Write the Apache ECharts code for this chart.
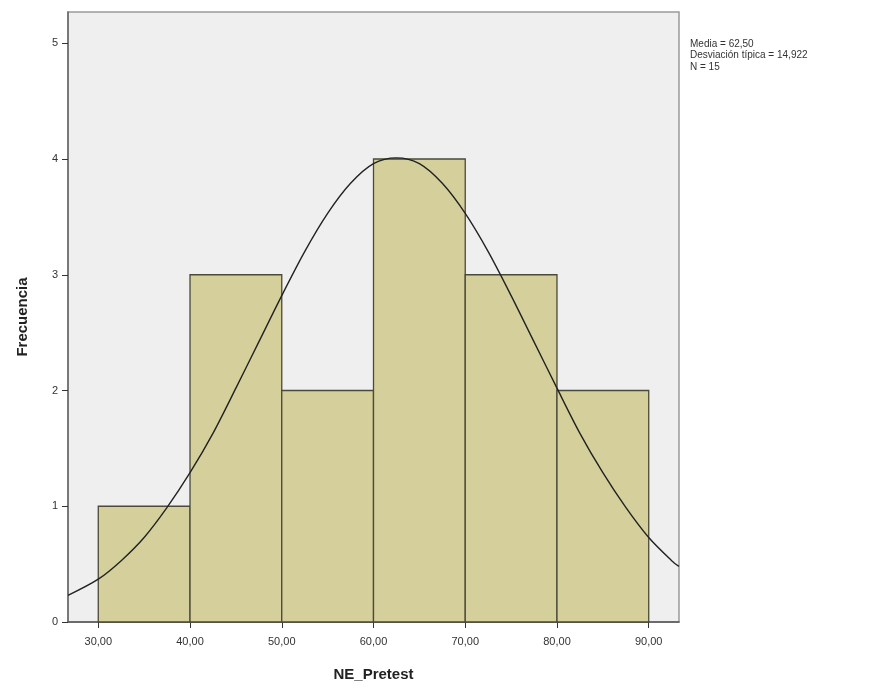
<!DOCTYPE html>
<html>
<head>
<meta charset="utf-8">
<script src="https://cdn.jsdelivr.net/npm/echarts@6.0.0/dist/echarts.min.js"></script>
<style>
  html, body { margin: 0; padding: 0; background: #fff; }
  #chart { width: 879px; height: 690px; }
</style>
</head>
<body>
<div id="chart"></div>
<script>
// histogram bins (NE_Pretest) and counts
var binStarts = [30, 40, 50, 60, 70, 80];
var binWidth = 10;
var counts = [1, 3, 2, 4, 3, 2];

// normal curve
var curveX = [26.7, 30, 32.5, 35, 37.5, 40, 42.5, 45, 47.5, 50, 52.5, 55, 57.5, 60, 62.5,
              65, 67.5, 70, 72.5, 75, 77.5, 80, 82.5, 85, 87.5, 90, 92.5, 93.3];
var curveY = [0.23, 0.37, 0.53, 0.73, 0.99, 1.29, 1.63, 2.02, 2.42, 2.82, 3.20, 3.53, 3.79, 3.96, 4.01,
              3.96, 3.79, 3.53, 3.20, 2.82, 2.42, 2.02, 1.63, 1.29, 0.99, 0.73, 0.53, 0.48];

var xTicks = [30, 40, 50, 60, 70, 80, 90];
var yTicks = [0, 1, 2, 3, 4, 5];
var statsText = ['Media = 62,50', 'Desviación típica = 14,922', 'N = 15'];

var bars = binStarts.map(function (s, i) { return [s, s + binWidth, counts[i]]; });
var curve = curveX.map(function (x, i) { return [x, curveY[i]]; });

var chart = echarts.init(document.getElementById('chart'));
var option = {
  animation: false,
  textStyle: { fontFamily: 'Liberation Sans, Arial, sans-serif' },
  grid: {
    left: 68, top: 12, right: 200, bottom: 68,
    show: true, backgroundColor: '#efefef', borderColor: '#9a9a9a', borderWidth: 1.5
  },
  xAxis: {
    type: 'value', min: 26.7, max: 93.3,
    name: 'NE_Pretest', nameLocation: 'middle', nameGap: 45,
    nameTextStyle: { fontSize: 15, fontWeight: 'bold', color: '#222' },
    axisLine: { show: true, onZero: false, lineStyle: { color: '#555', width: 1.5 } },
    axisTick: { show: true, customValues: xTicks, length: 6, lineStyle: { color: '#333' } },
    axisLabel: {
      customValues: xTicks, color: '#333', fontSize: 11, margin: 14,
      formatter: function (v) { return v.toFixed(2).replace('.', ','); }
    },
    splitLine: { show: false }
  },
  yAxis: {
    type: 'value', min: 0, max: 5.27,
    name: 'Frecuencia', nameLocation: 'middle', nameGap: 38,
    nameTextStyle: { fontSize: 15, fontWeight: 'bold', color: '#222' },
    axisLine: { show: true, lineStyle: { color: '#666', width: 1.5 } },
    axisTick: { show: true, customValues: yTicks, length: 6, lineStyle: { color: '#333' } },
    axisLabel: { customValues: yTicks, color: '#333', fontSize: 11, margin: 10 },
    splitLine: { show: false }
  },
  graphic: statsText.map(function (t, i) {
    return {
      type: 'text', left: 690, top: 39 + i * 11.5,
      style: { text: t, fontSize: 10, fill: '#333', fontFamily: 'Liberation Sans, Arial, sans-serif' }
    };
  }),
  series: [
    {
      type: 'custom',
      data: bars,
      encode: { x: [0, 1], y: 2 },
      renderItem: function (params, api) {
        var p0 = api.coord([api.value(0), api.value(2)]);
        var p1 = api.coord([api.value(1), 0]);
        return {
          type: 'rect',
          shape: { x: p0[0], y: p0[1], width: p1[0] - p0[0], height: p1[1] - p0[1] },
          style: { fill: '#d4cf9b', stroke: '#4a4a38', lineWidth: 1.3 }
        };
      },
      z: 2
    },
    {
      type: 'line',
      data: curve,
      smooth: 0.3,
      showSymbol: false,
      clip: true,
      lineStyle: { color: '#222', width: 1.4 },
      z: 3
    }
  ]
};
chart.setOption(option);
</script>
</body>
</html>
